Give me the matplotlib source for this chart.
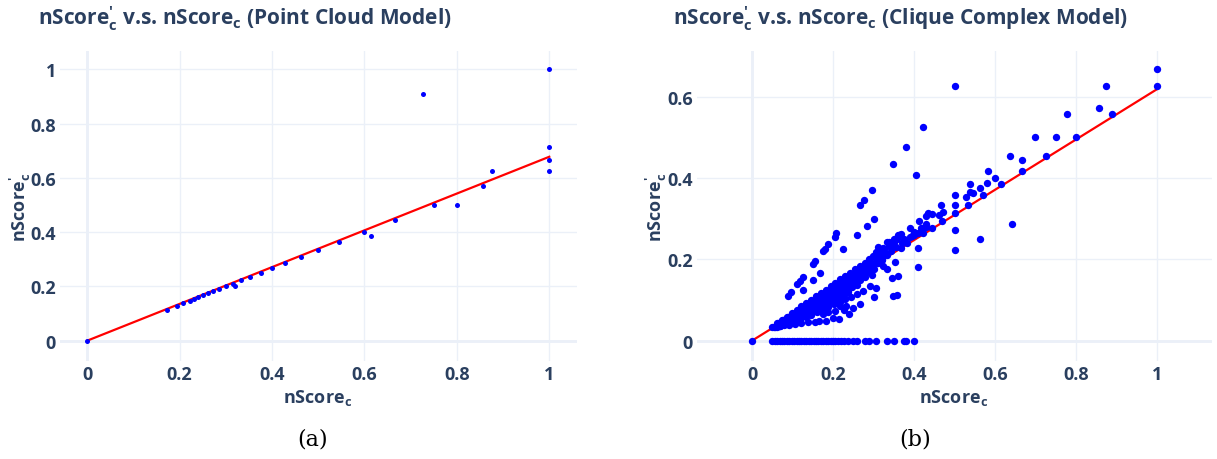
import matplotlib
matplotlib.use("Agg")
import matplotlib.pyplot as plt
from matplotlib.ticker import FuncFormatter, MultipleLocator

# ---------------- data ----------------
# (a) Point Cloud Model
pc_x = [0, 0.172, 0.194, 0.207, 0.222, 0.231, 0.24, 0.25, 0.261, 0.273, 0.286, 0.3,
        0.316, 0.32, 0.333, 0.353, 0.375, 0.4, 0.429, 0.462, 0.5, 0.545, 0.6, 0.615,
        0.667, 0.727, 0.75, 0.8, 0.857, 0.875, 1, 1, 1, 1]
pc_y = [0, 0.114, 0.129, 0.138, 0.148, 0.154, 0.16, 0.167, 0.174, 0.182, 0.19, 0.2,
        0.21, 0.2, 0.222, 0.235, 0.25, 0.267, 0.286, 0.308, 0.333, 0.364, 0.4, 0.385,
        0.444, 0.909, 0.5, 0.5, 0.571, 0.625, 1, 0.714, 0.667, 0.625]
pc_fit_x = [0, 1]
pc_fit_y = [0, 0.678]

# (b) Clique Complex Model -- dense band of points near the diagonal
cc_band_x = [
    0.050, 0.062, 0.074, 0.086, 0.098, 0.110, 0.122, 0.134, 0.146, 0.158, 0.170, 0.182, 0.194,
    0.206, 0.218, 0.230, 0.242, 0.254, 0.266, 0.278, 0.290, 0.302, 0.314, 0.326, 0.338, 0.350,
    0.053, 0.065, 0.077, 0.089, 0.101, 0.113, 0.125, 0.137, 0.149, 0.161, 0.173, 0.185, 0.197,
    0.209, 0.221, 0.233, 0.245, 0.257, 0.269, 0.281, 0.293, 0.305, 0.317, 0.329,
    0.056, 0.068, 0.080, 0.092, 0.104, 0.116, 0.128, 0.140, 0.152, 0.164, 0.176, 0.188, 0.200,
    0.212, 0.224, 0.236, 0.248, 0.260, 0.272, 0.284, 0.296, 0.308, 0.320,
    0.060, 0.072, 0.084, 0.096, 0.108, 0.120, 0.132, 0.144, 0.156, 0.168, 0.180, 0.192, 0.204,
    0.216, 0.228, 0.240, 0.252, 0.264, 0.276, 0.288, 0.300,
    0.062, 0.074, 0.086, 0.098, 0.110, 0.122, 0.134, 0.146, 0.158, 0.170, 0.182, 0.194, 0.206,
    0.218, 0.230, 0.242, 0.254, 0.266, 0.278,
    0.068, 0.080, 0.092, 0.104, 0.116, 0.128, 0.140, 0.152, 0.164, 0.176, 0.188, 0.200, 0.212,
    0.224, 0.236, 0.248, 0.260,
    0.070, 0.082, 0.094, 0.106, 0.118, 0.130, 0.142, 0.154, 0.166, 0.178, 0.190, 0.202, 0.214,
    0.226, 0.238,
    0.080, 0.093, 0.106, 0.119, 0.132, 0.145, 0.158, 0.171, 0.184, 0.197, 0.210, 0.223,
    0.090, 0.104, 0.118, 0.132, 0.146, 0.160, 0.174, 0.188, 0.202, 0.216, 0.230, 0.244, 0.258,
]
cc_band_y = [
    0.0345, 0.0428, 0.0511, 0.0593, 0.0676, 0.0759, 0.0842, 0.0925, 0.1007, 0.1090, 0.1173, 0.1256, 0.1339,
    0.1421, 0.1504, 0.1587, 0.1670, 0.1753, 0.1835, 0.1918, 0.2001, 0.2084, 0.2167, 0.2249, 0.2332, 0.2415,
    0.0347, 0.0426, 0.0504, 0.0583, 0.0662, 0.0740, 0.0819, 0.0897, 0.0976, 0.1055, 0.1133, 0.1212, 0.1290,
    0.1369, 0.1448, 0.1526, 0.1605, 0.1683, 0.1762, 0.1841, 0.1919, 0.1998, 0.2076, 0.2155,
    0.0347, 0.0422, 0.0496, 0.0570, 0.0645, 0.0719, 0.0794, 0.0868, 0.0942, 0.1017, 0.1091, 0.1166, 0.1240,
    0.1314, 0.1389, 0.1463, 0.1538, 0.1612, 0.1686, 0.1761, 0.1835, 0.1910, 0.1984,
    0.0354, 0.0425, 0.0496, 0.0566, 0.0637, 0.0708, 0.0779, 0.0850, 0.0920, 0.0991, 0.1062, 0.1133, 0.1204,
    0.1274, 0.1345, 0.1416, 0.1487, 0.1558, 0.1628, 0.1699, 0.1770,
    0.0347, 0.0414, 0.0482, 0.0549, 0.0616, 0.0683, 0.0750, 0.0818, 0.0885, 0.0952, 0.1019, 0.1086, 0.1154,
    0.1221, 0.1288, 0.1355, 0.1422, 0.1490, 0.1557,
    0.0360, 0.0424, 0.0488, 0.0551, 0.0615, 0.0678, 0.0742, 0.0806, 0.0869, 0.0933, 0.0996, 0.1060, 0.1124,
    0.1187, 0.1251, 0.1314, 0.1378,
    0.0350, 0.0410, 0.0470, 0.0530, 0.0590, 0.0650, 0.0710, 0.0770, 0.0830, 0.0890, 0.0950, 0.1010, 0.1070,
    0.1130, 0.1190,
    0.0376, 0.0437, 0.0498, 0.0559, 0.0620, 0.0682, 0.0743, 0.0804, 0.0865, 0.0926, 0.0987, 0.1048,
    0.0396, 0.0458, 0.0519, 0.0581, 0.0642, 0.0704, 0.0766, 0.0827, 0.0889, 0.0950, 0.1012, 0.1074, 0.1135,
]

# (b) scattered points
cc_pts_x = [
    0, 1.0, 1.0, 0.875, 0.857, 0.889, 0.778, 0.7, 0.75, 0.8, 0.636, 0.727, 0.667, 0.667, 0.615,
    0.643, 0.5, 0.421, 0.381, 0.348, 0.406, 0.583, 0.6, 0.58, 0.562, 0.538, 0.538, 0.545, 0.529,
    0.571, 0.5, 0.5, 0.5, 0.533, 0.467, 0.471, 0.462, 0.435, 0.444, 0.429, 0.469, 0.412, 0.429,
    0.417, 0.444, 0.389, 0.4, 0.368, 0.36, 0.5, 0.5, 0.563, 0.409, 0.409, 0.382, 0.394, 0.375,
    0.35, 0.364, 0.357, 0.338, 0.324, 0.353, 0.324, 0.333,
    0.296, 0.276, 0.267, 0.3, 0.283, 0.259, 0.208, 0.205, 0.188, 0.18, 0.176, 0.225, 0.156,
    0.151, 0.167, 0.15, 0.125, 0.118, 0.111, 0.125, 0.095, 0.088,
    0.297, 0.306, 0.292, 0.273, 0.3, 0.267, 0.25, 0.24, 0.214, 0.346, 0.36, 0.357, 0.348,
    0.218, 0.231, 0.227, 0.205, 0.187, 0.174, 0.2, 0.183, 0.165, 0.139, 0.12, 0.105, 0.155,
    0.31, 0.32, 0.333, 0.342, 0.355, 0.368, 0.311, 0.32, 0.307, 0.298, 0.333, 0.345, 0.37,
    0.39, 0.4, 0.41, 0.42, 0.43, 0.419, 0.421,
]
cc_pts_y = [
    0, 0.667, 0.625, 0.625, 0.571, 0.556, 0.556, 0.5, 0.5, 0.5, 0.455, 0.455, 0.444, 0.417, 0.385,
    0.286, 0.625, 0.526, 0.476, 0.435, 0.406, 0.417, 0.4, 0.388, 0.375, 0.385, 0.366, 0.364, 0.353,
    0.357, 0.357, 0.333, 0.313, 0.333, 0.333, 0.316, 0.308, 0.313, 0.311, 0.306, 0.294, 0.294, 0.286,
    0.278, 0.278, 0.278, 0.267, 0.263, 0.26, 0.273, 0.222, 0.25, 0.182, 0.227, 0.241, 0.258, 0.25,
    0.25, 0.26, 0.25, 0.242, 0.227, 0.194, 0.184, 0.176,
    0.37, 0.345, 0.333, 0.3, 0.283, 0.259, 0.264, 0.256, 0.238, 0.225, 0.221, 0.225, 0.197,
    0.189, 0.167, 0.15, 0.156, 0.147, 0.139, 0.125, 0.119, 0.111,
    0.162, 0.129, 0.135, 0.123, 0.107, 0.089, 0.08, 0.065, 0.054, 0.154, 0.16, 0.113, 0.109,
    0.086, 0.084, 0.076, 0.073, 0.07, 0.066, 0.055, 0.049, 0.049, 0.047, 0.044, 0.042, 0.046,
    0.19, 0.2, 0.21, 0.22, 0.23, 0.227, 0.23, 0.222, 0.217, 0.209, 0.242, 0.235, 0.24,
    0.255, 0.26, 0.265, 0.267, 0.28, 0.278, 0.265,
]

# (b) points lying on nScore'_c = 0
cc_zero_x = [
    0.05, 0.056, 0.062, 0.068, 0.074, 0.08, 0.086, 0.092, 0.098, 0.104, 0.11, 0.116, 0.122,
    0.128, 0.134, 0.14, 0.146, 0.152, 0.158, 0.164, 0.17, 0.176, 0.182, 0.188, 0.194, 0.2,
    0.206, 0.212, 0.22, 0.227, 0.237, 0.25, 0.258, 0.28, 0.289, 0.305, 0.333, 0.35, 0.375,
    0.38, 0.4,
]
cc_zero_y = [0.0] * len(cc_zero_x)

cc_fit_x = [0, 1]
cc_fit_y = [0, 0.618]

titles = [r"nScore$^{\prime}_{c}$ v.s. nScore$_{c}$ (Point Cloud Model)",
          r"nScore$^{\prime}_{c}$ v.s. nScore$_{c}$ (Clique Complex Model)"]
xlabel = r"nScore$_{c}$"
ylabel = r"nScore$^{\prime}_{c}$"
captions = ["(a)", "(b)"]

# ---------------- style ----------------
W, H = 1217, 460
TXT = "#2a3f5f"
GRID = "#EBF0F8"
plt.rcParams['font.family'] = ['Open Sans', 'DejaVu Sans']
plt.rcParams['font.weight'] = 'bold'
plt.rcParams['mathtext.fontset'] = 'custom'
plt.rcParams['mathtext.rm'] = 'Open Sans:bold'
plt.rcParams['mathtext.it'] = 'Open Sans:bold'
plt.rcParams['mathtext.bf'] = 'Open Sans:bold'

fig = plt.figure(figsize=(W / 100, H / 100), dpi=100)


def box(x0, x1, y0, y1):
    return [x0 / W, 1 - y1 / H, (x1 - x0) / W, (y1 - y0) / H]


def fx(px):
    return px / W


def fy(py):
    return 1 - py / H


ax1 = fig.add_axes(box(60, 577, 52, 362))
ax2 = fig.add_axes(box(697, 1212, 52, 362))

fmt = FuncFormatter(lambda v, p: "%g" % round(v, 3))
for ax in (ax1, ax2):
    for s in ax.spines.values():
        s.set_visible(False)
    ax.set_axisbelow(True)
    ax.grid(True, color=GRID, lw=1)
    ax.axhline(0, color=GRID, lw=2, zorder=0.5)
    ax.axvline(0, color=GRID, lw=2, zorder=0.5)
    ax.tick_params(length=0, labelsize=13, labelcolor=TXT, pad=3)
    ax.xaxis.set_major_locator(MultipleLocator(0.2))
    ax.yaxis.set_major_locator(MultipleLocator(0.2))
    ax.xaxis.set_major_formatter(fmt)
    ax.yaxis.set_major_formatter(fmt)
    for lab in ax.get_xticklabels() + ax.get_yticklabels():
        lab.set_fontweight('bold')

# (a)
ax1.plot(pc_fit_x, pc_fit_y, color="#ff0000", lw=1.6, zorder=2)
ax1.scatter(pc_x, pc_y, s=13, color="#0000ff", linewidths=0, zorder=3)
ax1.set_xlim(-0.059, 1.06)
ax1.set_ylim(-0.075, 1.068)

# (b)
ax2.plot(cc_fit_x, cc_fit_y, color="#ff0000", lw=1.6, zorder=2)
ax2.scatter(cc_band_x + cc_pts_x + cc_zero_x, cc_band_y + cc_pts_y + cc_zero_y,
            s=28, color="#0000ff", linewidths=0, zorder=3)
ax2.set_xlim(-0.136, 1.136)
ax2.set_ylim(-0.05, 0.712)

# titles
fig.text(fx(38), fy(19), titles[0], fontsize=15, color=TXT, fontweight='bold',
         ha='left', va='center')
fig.text(fx(673), fy(19), titles[1], fontsize=15, color=TXT, fontweight='bold',
         ha='left', va='center')

# axis titles
for cx, cy in ((318, 398), (954, 398)):
    fig.text(fx(cx), fy(cy), xlabel, fontsize=13, color=TXT, fontweight='bold',
             ha='center', va='center')
for cx, cy in ((20, 207), (656, 207)):
    fig.text(fx(cx), fy(cy), ylabel, fontsize=13, color=TXT, fontweight='bold',
             ha='center', va='center', rotation=90)

# captions
for cx, lab in ((313, captions[0]), (915, captions[1])):
    fig.text(fx(cx), fy(440), lab, fontsize=16, color='black', family='DejaVu Serif',
             fontweight='normal', ha='center', va='center')

fig.savefig("out.png", dpi=100)
